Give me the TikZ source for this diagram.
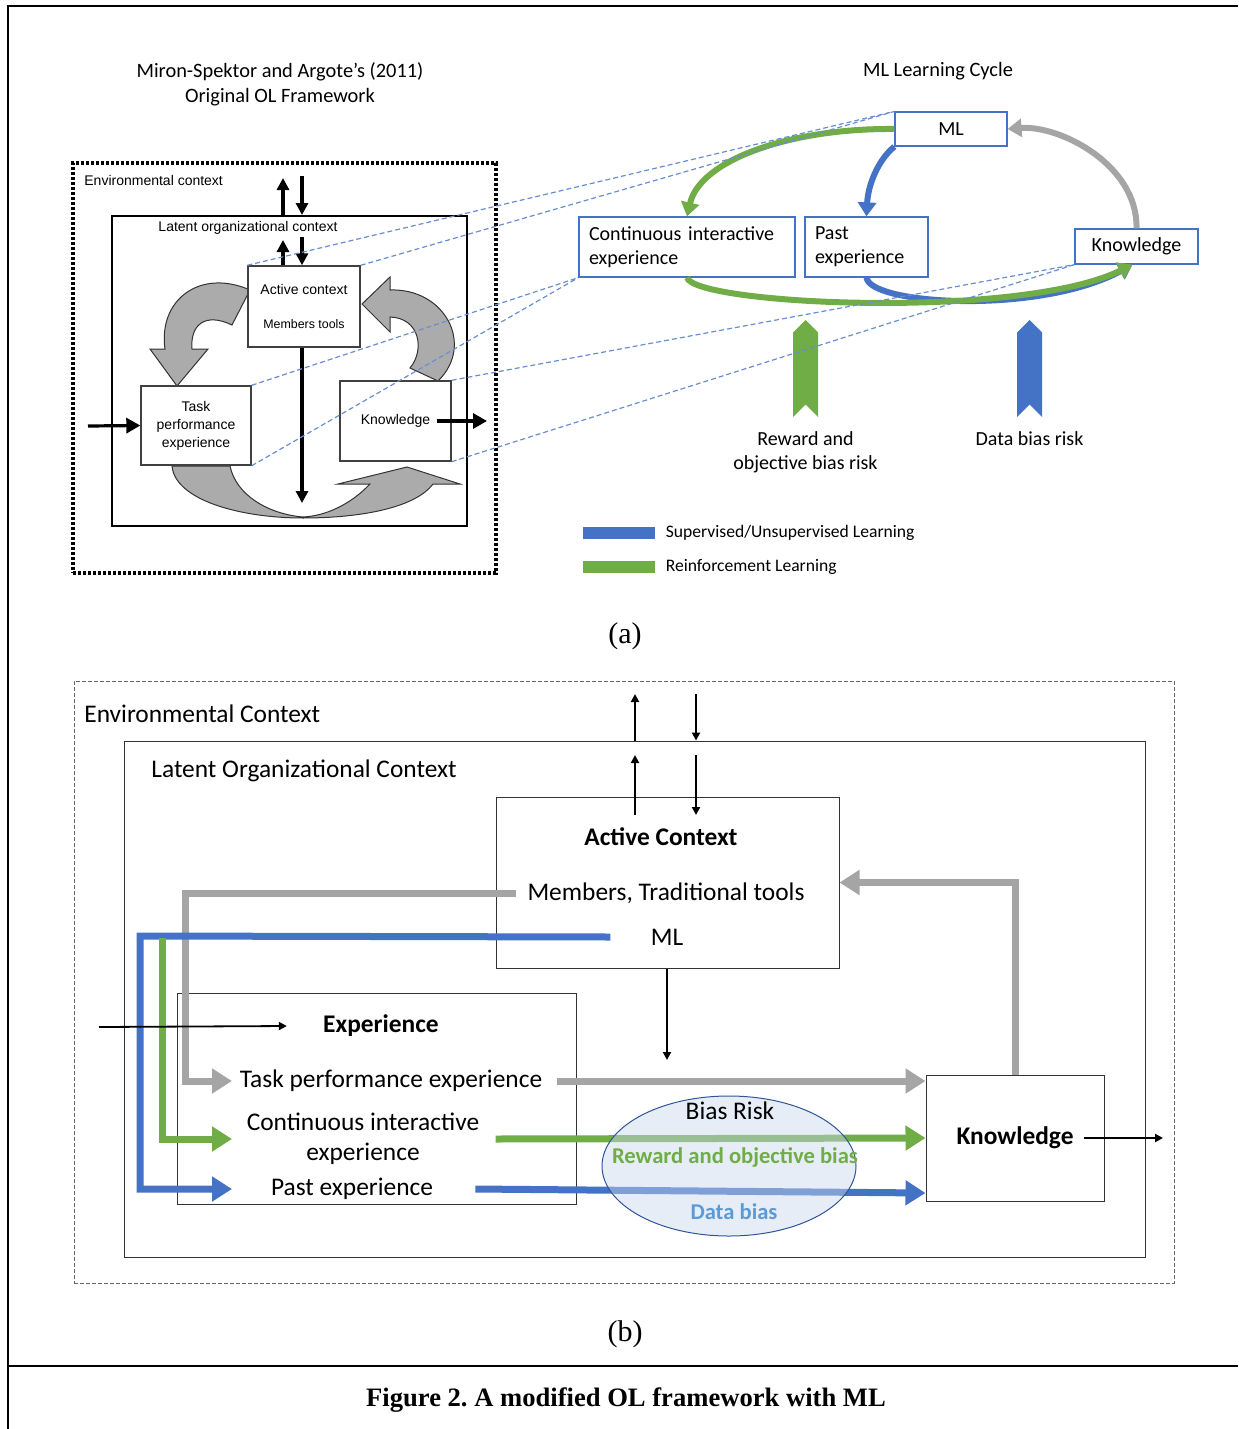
\documentclass[tikz,border=0pt]{standalone}
\usepackage{fontspec}
\setmainfont{Carlito}
\newfontfamily\arialf{Liberation Sans}
\newfontfamily\timesf{Liberation Serif}
\usetikzlibrary{arrows.meta, positioning, shapes.geometric, shapes.symbols}
\frenchspacing

\definecolor{mlblue}{HTML}{4472C4}
\definecolor{mlgreen}{HTML}{70AD47}
\definecolor{mlgray}{HTML}{A5A5A5}
\definecolor{blockgray}{HTML}{ABABAB}
\definecolor{biasfill}{HTML}{C9D7EE}
\definecolor{biasedge}{HTML}{2F5597}
\definecolor{databias}{HTML}{5B9BD5}

\begin{document}
\begin{tikzpicture}[x=0.5pt, y=-0.5pt,
    txt/.style={inner sep=1pt},
    lbox/.style={rectangle, draw=black!75, line width=0.7pt, fill=white, inner sep=0pt, align=center, font=\arialf\fontsize{7}{9}\selectfont},
    mbox/.style={rectangle, draw=mlblue, line width=0.6pt, fill=white, inner sep=2.5pt, font=\fontsize{10}{12}\selectfont},
    bbox/.style={rectangle, draw=black!80, line width=0.5pt, inner sep=0pt},
    blk/.style={fill=blockgray, draw=black!80, line width=0.5pt},
    thk/.style={-{Triangle[length=6pt,width=6pt]}, line width=1.6pt},
    cyc/.style={-{Triangle[length=7pt,width=9pt]}, line width=3pt},
    lnk/.style={mlblue!80, line width=0.6pt, dash pattern=on 2.5pt off 1.5pt},
    flow/.style={-{Triangle[length=10pt,width=12pt]}, line width=3.5pt},
    kar/.style={-{Triangle[length=4pt,width=4pt]}, line width=1.1pt},
    risk/.style={signal, signal to=north, signal from=south, minimum width=12.5pt, minimum height=36pt, inner sep=0pt},
    btxt/.style={inner sep=1pt, font=\fontsize{12.7}{15}\selectfont, align=center}
]
\useasboundingbox (0,0) rectangle (1238,1429);
\draw[line width=1pt] (1238,6) -- (8,6) -- (8,1429);
\draw[line width=1pt] (8,1366) -- (1238,1366);

% (a) original framework
\node[txt, align=center, font=\fontsize{10.2}{12.5}\selectfont] (ttl) at (280,84.5) {Miron-Spektor and Argote’s (2011)\\Original OL Framework};
\node[rectangle, draw, line width=2pt, dash pattern=on 1.6pt off 0.9pt, minimum width=211.5pt, minimum height=205pt] (env) at (284.5,368) {};
\node[txt, anchor=west, font=\arialf\fontsize{7}{8}\selectfont] (envl) at (82,180) {Environmental context};
\node[rectangle, draw, line width=1pt, minimum width=177.5pt, minimum height=155pt] (lat) at (289.5,371) {};
\node[txt, font=\arialf\fontsize{7}{8}\selectfont] (latl) at (248,228) {Latent organizational context};

\draw[blk] (165,349) .. controls (158,300) and (200,268) .. (250,290) -- (232,325)
    .. controls (205,312) and (190,325) .. (192,349) -- (208,349) -- (177,386) -- (150,349) -- cycle;
\draw[blk] (410,368) .. controls (425,350) and (420,318) .. (390,317) -- (390,332) -- (362,304)
    -- (390,277) -- (390,290) .. controls (445,288) and (475,345) .. (438,381) -- cycle;
\draw[blk] (172,466) .. controls (175,500) and (240,518) .. (303,518) .. controls (360,518) and (415,508) .. (433,484)
    -- (460,484) -- (407,467) -- (338,484) -- (370,484) .. controls (350,505) and (325,516) .. (303,517)
    .. controls (268,514) and (236,495) .. (230,466) -- cycle;

\node[lbox, minimum width=56pt, minimum height=40.5pt] (act) at (304,306.5) {Active context\\[8pt]{\fontsize{6.2}{7}\selectfont Members tools}};
\node[lbox, minimum width=55pt, minimum height=39.5pt] (task) at (196,425.5) {Task\\performance\\experience};
\node[lbox, minimum width=55.5pt, minimum height=40pt] (kn) at (395.5,421) {Knowledge};

\coordinate (ou) at (283,178);
\coordinate (od) at (302,176);
\coordinate (iu) at (283,240);
\coordinate (id) at (302,237);
\coordinate (adn) at (302,503);
\coordinate (ain) at (88,426);
\coordinate (aout) at (487,421);
\draw[thk] (lat.north -| ou) -- (ou);
\draw[thk] (od) -- (lat.north -| od);
\draw[thk] (act.north -| iu) -- (iu);
\draw[thk] (id) -- (act.north -| id);
\draw[thk] (act.south -| adn) -- (adn);
\draw[thk, -{Triangle[length=7pt,width=7.5pt]}] (ain) -- (task.west);
\draw[thk, -{Triangle[length=7pt,width=7.5pt]}] ([xshift=-7.5pt]kn.east) -- (aout);

% (a) ML learning cycle
\node[txt, font=\fontsize{10.2}{12}\selectfont] (mlc) at (938,71) {ML Learning Cycle};
\node[mbox, minimum width=56pt, minimum height=17pt] (ml) at (951,129) {ML};
\node[mbox, inner xsep=5pt, minimum width=108pt, minimum height=30pt, text width=98pt, align=left] (ci) at (687,247) {Continuous interactive\\experience};
\node[mbox, inner xsep=5pt, minimum width=61.5pt, minimum height=30pt, text width=51.5pt, align=left] (past) at (866.5,247) {Past\\experience};
\node[mbox, minimum width=61.5pt, minimum height=17.5pt] (kr) at (1136.5,246.5) {Knowledge};

\draw[cyc, mlgreen] (ml.west) .. controls (790,128) and (700,160) .. (ci.north);
\draw[cyc, mlblue] (ml.south west) .. controls (878,160) and (868,185) .. (past.north);
\draw[cyc, mlgray] (kr.north) .. controls (1138,165) and (1060,125) .. (ml.east);
\draw[cyc, mlblue] (past.south) .. controls (870,305) and (1040,315) .. ([xshift=-2pt]kr.south);
\draw[cyc, mlgreen] (ci.south) .. controls (695,305) and (1020,320) .. ([xshift=-2pt]kr.south);

\node[risk, fill=mlgreen] (rw) at (805.5,368.5) {};
\node[risk, fill=mlblue] (db) at (1029.5,368.5) {};
\node[txt, below=12pt of rw, align=center, font=\fontsize{10}{12}\selectfont] (rwl) {Reward and\\objective bias risk};
\node[txt, below=12pt of db, font=\fontsize{10}{12}\selectfont] (dbl) {Data bias risk};

\node[fill=mlblue, minimum width=36pt, minimum height=6pt, inner sep=0pt] (lg1) at (619,533) {};
\node[fill=mlgreen, minimum width=36pt, minimum height=6pt, inner sep=0pt] (lg2) at (619,567) {};
\node[txt, right=4pt of lg1, font=\fontsize{8.8}{10}\selectfont] (lg1t) {Supervised/Unsupervised Learning};
\node[txt, right=4pt of lg2, font=\fontsize{8.8}{10}\selectfont] (lg2t) {Reinforcement Learning};

\draw[lnk] (act.north west) -- (ml.north west);
\draw[lnk] (act.north east) -- (ml.north west);
\draw[lnk] (task.north east) -- (ci.south west);
\draw[lnk] (task.south east) -- (ci.south west);
\draw[lnk] (kn.north east) -- (kr.south west);
\draw[lnk] (kn.south east) -- (kr.south west);

\node[txt, font=\timesf\fontsize{15}{18}\selectfont] (capa) at (625,636) {(a)};

% (b) modified framework
\node[bbox, draw=black!60, dash pattern=on 2pt off 1pt, minimum width=550pt, minimum height=301pt] (env2) at (624,982) {};
\node[btxt, anchor=west] (env2l) at (82,714) {Environmental Context};
\node[bbox, minimum width=510.5pt, minimum height=258pt] (lat2) at (634.5,999) {};
\node[btxt, anchor=west] (lat2l) at (149,771) {Latent Organizational Context};
\node[bbox, minimum width=171.5pt, minimum height=85.5pt] (act2) at (667.5,882.5) {};
\node[btxt, font=\bfseries\fontsize{12.7}{15}\selectfont] (actt) at (661,837) {Active Context};
\node[btxt] (mem) at (666,893) {Members, Traditional tools};
\node[btxt] (mlt) at (667,937) {ML};
\node[bbox, minimum width=199.5pt, minimum height=105.5pt] (exp2) at (376.5,1098.5) {};
\node[btxt, font=\bfseries\fontsize{12.7}{15}\selectfont] (expt) at (381,1026) {Experience};
\node[btxt] (tpe) at (391,1081) {Task performance experience};
\node[btxt] (cie) at (363,1139) {Continuous interactive\\experience};
\node[btxt] (pe) at (352,1189) {Past experience};
\node[bbox, minimum width=89pt, minimum height=63pt, font=\bfseries\fontsize{12.7}{15}\selectfont] (kn2) at (1015,1138) {Knowledge};

\coordinate (tipx) at (232,1000);
\coordinate (gs) at (162,938);
\draw[flow, mlgray] ([xshift=-4.5pt]mem.west) -- (185,893) |- (tipx |- tpe);
\draw[flow, mlblue] ([xshift=-19pt]mlt.west) -- (140,936) |- (tipx |- pe);
\draw[flow, mlgreen] (gs) |- (tipx |- cie);
\draw[flow, mlgray] ([xshift=6pt]tpe.east) -- (kn2.west |- tpe);
\draw[flow, mlgreen] ([xshift=7pt]cie.east) -- (kn2.west);
\draw[flow, mlblue] ([xshift=20pt]pe.east) -- ([yshift=-27.5pt]kn2.west);
\draw[flow, mlgray] (kn2.north) |- (act2.east);

\coordinate (eu) at (635,694);
\coordinate (ed) at (696,694);
\coordinate (mu) at (635,755);
\coordinate (md) at (696,755);
\coordinate (au) at (635,815);
\coordinate (ad) at (696,815);
\coordinate (bdn) at (667,1060);
\coordinate (bin) at (99,1027);
\coordinate (bout) at (1163,1138);
\draw[kar] (lat2.north -| eu) -- (eu);
\draw[kar] (ed) -- (lat2.north -| ed);
\draw[kar] (au) -- (mu);
\draw[kar] (md) -- (ad);
\draw[kar] (act2.south -| bdn) -- (bdn);
\draw[kar, line width=0.9pt] (bin) -- ([xshift=-17pt]expt.west);
\draw[kar] ([xshift=-10.5pt]kn2.east) -- (bout);

\node[ellipse, draw=biasedge, line width=0.5pt, fill=biasfill, fill opacity=0.45, minimum width=127pt, minimum height=70pt] (bias) at (729,1166) {};
\node[btxt] (brt) at (730,1111) {Bias Risk};
\node[txt, text=mlgreen, font=\bfseries\fontsize{11.3}{13}\selectfont] (rob) at (735,1157) {Reward and objective bias};
\node[txt, text=databias, font=\bfseries\fontsize{11.3}{13}\selectfont] (dbt) at (734,1212) {Data bias};

\node[txt, font=\timesf\fontsize{15}{18}\selectfont] (capb) at (625,1334) {(b)};
\node[txt, font=\timesf\bfseries\fontsize{13.3}{16}\selectfont] (cap) at (626,1400) {Figure 2. A modified OL framework with ML};
\end{tikzpicture}
\end{document}
